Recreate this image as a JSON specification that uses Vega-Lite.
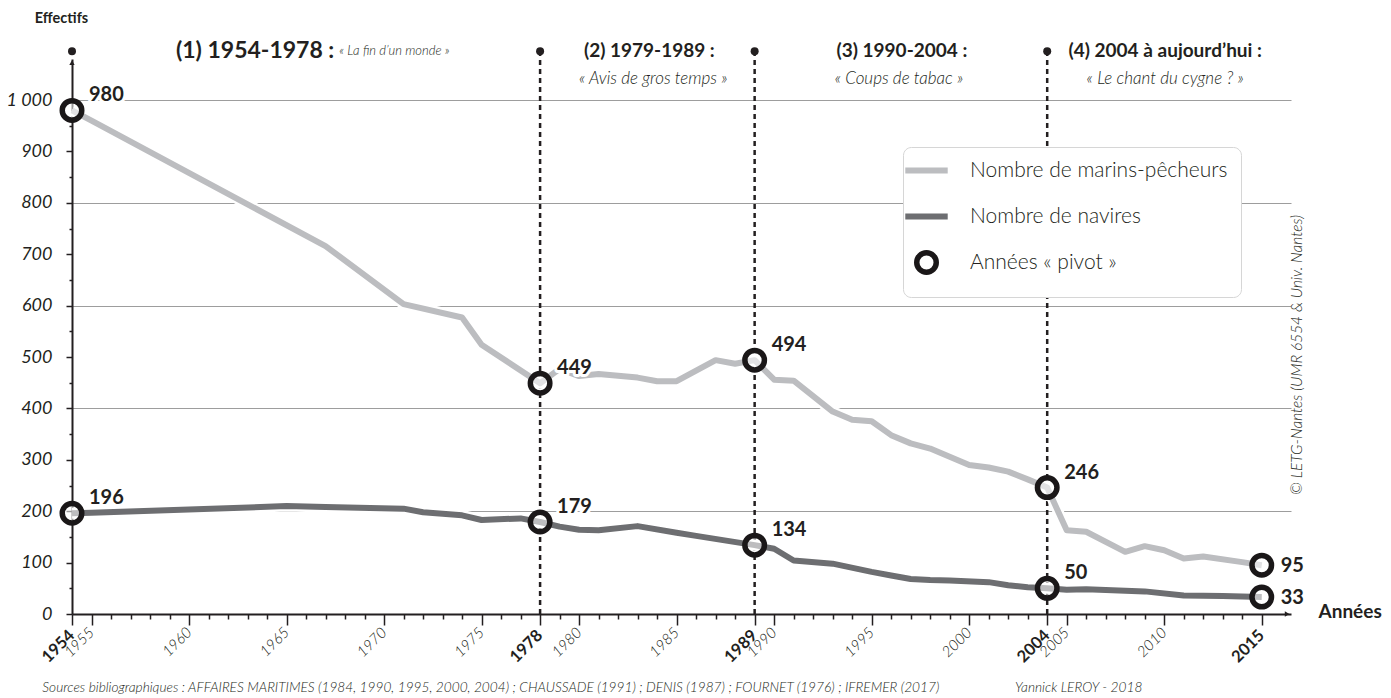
{
  "$schema": "https://vega.github.io/schema/vega-lite/v6.json",
  "width": 1219,
  "height": 555,
  "autosize": {"type": "none"},
  "padding": {"left": 72, "top": 59, "right": 100, "bottom": 84},
  "background": "white",
  "config": {"view": {"stroke": null}, "font": "Lato", "text": {"font": "Lato", "color": "#231f20"}},
  "datasets": {
    "series": [
      {"annee": 1954, "valeur": 980, "serie": "Nombre de marins-pêcheurs"},
      {"annee": 1955, "valeur": 960, "serie": "Nombre de marins-pêcheurs"},
      {"annee": 1967, "valeur": 716, "serie": "Nombre de marins-pêcheurs"},
      {"annee": 1971, "valeur": 603, "serie": "Nombre de marins-pêcheurs"},
      {"annee": 1974, "valeur": 577, "serie": "Nombre de marins-pêcheurs"},
      {"annee": 1975, "valeur": 524, "serie": "Nombre de marins-pêcheurs"},
      {"annee": 1978, "valeur": 449, "serie": "Nombre de marins-pêcheurs"},
      {"annee": 1979, "valeur": 477, "serie": "Nombre de marins-pêcheurs"},
      {"annee": 1980, "valeur": 463, "serie": "Nombre de marins-pêcheurs"},
      {"annee": 1981, "valeur": 467, "serie": "Nombre de marins-pêcheurs"},
      {"annee": 1983, "valeur": 460, "serie": "Nombre de marins-pêcheurs"},
      {"annee": 1984, "valeur": 453, "serie": "Nombre de marins-pêcheurs"},
      {"annee": 1985, "valeur": 453, "serie": "Nombre de marins-pêcheurs"},
      {"annee": 1987, "valeur": 494, "serie": "Nombre de marins-pêcheurs"},
      {"annee": 1988, "valeur": 487, "serie": "Nombre de marins-pêcheurs"},
      {"annee": 1989, "valeur": 494, "serie": "Nombre de marins-pêcheurs"},
      {"annee": 1990, "valeur": 456, "serie": "Nombre de marins-pêcheurs"},
      {"annee": 1991, "valeur": 454, "serie": "Nombre de marins-pêcheurs"},
      {"annee": 1993, "valeur": 394, "serie": "Nombre de marins-pêcheurs"},
      {"annee": 1994, "valeur": 378, "serie": "Nombre de marins-pêcheurs"},
      {"annee": 1995, "valeur": 375, "serie": "Nombre de marins-pêcheurs"},
      {"annee": 1996, "valeur": 348, "serie": "Nombre de marins-pêcheurs"},
      {"annee": 1997, "valeur": 332, "serie": "Nombre de marins-pêcheurs"},
      {"annee": 1998, "valeur": 322, "serie": "Nombre de marins-pêcheurs"},
      {"annee": 1999, "valeur": 306, "serie": "Nombre de marins-pêcheurs"},
      {"annee": 2000, "valeur": 290, "serie": "Nombre de marins-pêcheurs"},
      {"annee": 2001, "valeur": 285, "serie": "Nombre de marins-pêcheurs"},
      {"annee": 2002, "valeur": 277, "serie": "Nombre de marins-pêcheurs"},
      {"annee": 2003, "valeur": 262, "serie": "Nombre de marins-pêcheurs"},
      {"annee": 2004, "valeur": 246, "serie": "Nombre de marins-pêcheurs"},
      {"annee": 2005, "valeur": 163, "serie": "Nombre de marins-pêcheurs"},
      {"annee": 2006, "valeur": 160, "serie": "Nombre de marins-pêcheurs"},
      {"annee": 2008, "valeur": 121, "serie": "Nombre de marins-pêcheurs"},
      {"annee": 2009, "valeur": 132, "serie": "Nombre de marins-pêcheurs"},
      {"annee": 2010, "valeur": 124, "serie": "Nombre de marins-pêcheurs"},
      {"annee": 2011, "valeur": 108, "serie": "Nombre de marins-pêcheurs"},
      {"annee": 2012, "valeur": 112, "serie": "Nombre de marins-pêcheurs"},
      {"annee": 2014, "valeur": 101, "serie": "Nombre de marins-pêcheurs"},
      {"annee": 2015, "valeur": 95, "serie": "Nombre de marins-pêcheurs"},
      {"annee": 1954, "valeur": 196, "serie": "Nombre de navires"},
      {"annee": 1955, "valeur": 197, "serie": "Nombre de navires"},
      {"annee": 1965, "valeur": 210, "serie": "Nombre de navires"},
      {"annee": 1967, "valeur": 208, "serie": "Nombre de navires"},
      {"annee": 1971, "valeur": 205, "serie": "Nombre de navires"},
      {"annee": 1972, "valeur": 198, "serie": "Nombre de navires"},
      {"annee": 1974, "valeur": 192, "serie": "Nombre de navires"},
      {"annee": 1975, "valeur": 183, "serie": "Nombre de navires"},
      {"annee": 1977, "valeur": 186, "serie": "Nombre de navires"},
      {"annee": 1978, "valeur": 179, "serie": "Nombre de navires"},
      {"annee": 1979, "valeur": 170, "serie": "Nombre de navires"},
      {"annee": 1980, "valeur": 164, "serie": "Nombre de navires"},
      {"annee": 1981, "valeur": 163, "serie": "Nombre de navires"},
      {"annee": 1983, "valeur": 171, "serie": "Nombre de navires"},
      {"annee": 1985, "valeur": 158, "serie": "Nombre de navires"},
      {"annee": 1986, "valeur": 152, "serie": "Nombre de navires"},
      {"annee": 1989, "valeur": 134, "serie": "Nombre de navires"},
      {"annee": 1990, "valeur": 127, "serie": "Nombre de navires"},
      {"annee": 1991, "valeur": 104, "serie": "Nombre de navires"},
      {"annee": 1993, "valeur": 98, "serie": "Nombre de navires"},
      {"annee": 1995, "valeur": 82, "serie": "Nombre de navires"},
      {"annee": 1996, "valeur": 75, "serie": "Nombre de navires"},
      {"annee": 1997, "valeur": 68, "serie": "Nombre de navires"},
      {"annee": 1998, "valeur": 66, "serie": "Nombre de navires"},
      {"annee": 1999, "valeur": 65, "serie": "Nombre de navires"},
      {"annee": 2001, "valeur": 62, "serie": "Nombre de navires"},
      {"annee": 2002, "valeur": 56, "serie": "Nombre de navires"},
      {"annee": 2003, "valeur": 52, "serie": "Nombre de navires"},
      {"annee": 2004, "valeur": 50, "serie": "Nombre de navires"},
      {"annee": 2005, "valeur": 47, "serie": "Nombre de navires"},
      {"annee": 2006, "valeur": 48, "serie": "Nombre de navires"},
      {"annee": 2009, "valeur": 44, "serie": "Nombre de navires"},
      {"annee": 2011, "valeur": 36, "serie": "Nombre de navires"},
      {"annee": 2013, "valeur": 35, "serie": "Nombre de navires"},
      {"annee": 2015, "valeur": 33, "serie": "Nombre de navires"}
    ],
    "pivots": [
      {"annee": 1954, "valeur": 980, "etiquette": "980", "serie": "Années « pivot »"},
      {"annee": 1954, "valeur": 196, "etiquette": "196", "serie": "Années « pivot »"},
      {"annee": 1978, "valeur": 449, "etiquette": "449", "serie": "Années « pivot »"},
      {"annee": 1978, "valeur": 179, "etiquette": "179", "serie": "Années « pivot »"},
      {"annee": 1989, "valeur": 494, "etiquette": "494", "serie": "Années « pivot »"},
      {"annee": 1989, "valeur": 134, "etiquette": "134", "serie": "Années « pivot »"},
      {"annee": 2004, "valeur": 246, "etiquette": "246", "serie": "Années « pivot »"},
      {"annee": 2004, "valeur": 50, "etiquette": "50", "serie": "Années « pivot »"},
      {"annee": 2015, "valeur": 95, "etiquette": "95", "serie": "Années « pivot »"},
      {"annee": 2015, "valeur": 33, "etiquette": "33", "serie": "Années « pivot »"}
    ]
  },
  "encoding": {
    "x": {
      "field": "annee",
      "type": "quantitative",
      "scale": {"domain": [1954, 2016.5], "nice": false, "zero": false},
      "axis": {
        "title": "Années",
        "titleX": 1246,
        "titleY": -3,
        "titleAlign": "left",
        "titleBaseline": "middle",
        "titleAngle": 0,
        "titleFont": "Lato",
        "titleFontSize": 19,
        "titleFontWeight": "bold",
        "titleColor": "#231f20",
        "values": [1954,1955,1956,1957,1958,1959,1960,1961,1962,1963,1964,1965,1966,1967,1968,1969,1970,1971,1972,1973,1974,1975,1976,1977,1978,1979,1980,1981,1982,1983,1984,1985,1986,1987,1988,1989,1990,1991,1992,1993,1994,1995,1996,1997,1998,1999,2000,2001,2002,2003,2004,2005,2006,2007,2008,2009,2010,2011,2012,2013,2014,2015],
        "labels": false,
        "tickSize": {"condition": {"test": "datum.value % 5 !== 0 && indexof([1954,1978,1989,2004,2015], datum.value) < 0", "value": 5}, "value": 11},
        "tickWidth": 1.5,
        "tickColor": "#231f20",
        "domainColor": "#231f20",
        "domainWidth": 2,
        "grid": false
      }
    },
    "y": {
      "field": "valeur",
      "type": "quantitative",
      "scale": {"domain": [0, 1080], "nice": false, "zero": true},
      "axis": {
        "title": "Effectifs",
        "titleAngle": 0,
        "titleX": -11,
        "titleY": -41,
        "titleAlign": "center",
        "titleBaseline": "middle",
        "titleFont": "Lato",
        "titleFontSize": 14.5,
        "titleFontWeight": "bold",
        "titleColor": "#231f20",
        "values": [0,50,100,150,200,250,300,350,400,450,500,550,600,650,700,750,800,850,900,950,1000],
        "labelExpr": "datum.value % 100 === 0 ? replace(format(datum.value, ','), ',', ' ') : ''",
        "labelFont": "Lato",
        "labelFontStyle": "italic",
        "labelFontWeight": "normal",
        "labelFontSize": 18,
        "labelColor": "#231f20",
        "labelPadding": 14,
        "labelOverlap": false,
        "tickSize": {"condition": {"test": "datum.value % 100 !== 0", "value": 3}, "value": 6},
        "tickColor": "#231f20",
        "tickWidth": 1.5,
        "domainColor": "#231f20",
        "domainWidth": 2,
        "grid": true,
        "gridColor": "#9d9d9d",
        "gridWidth": 1.2,
        "gridOpacity": {"condition": {"test": "datum.value % 200 === 0 && datum.value > 0", "value": 1}, "value": 0}
      }
    }
  },
  "layer": [
    {
      "data": {"values": [
        {"annee": 1978, "valeur": 0, "haut": 1095},
        {"annee": 1989, "valeur": 0, "haut": 1095},
        {"annee": 2004, "valeur": 0, "haut": 1095}
      ]},
      "mark": {"type": "rule", "strokeDash": [5, 4], "strokeWidth": 2.5, "color": "#231f20"},
      "encoding": {"y2": {"field": "haut"}}
    },
    {
      "data": {"values": [
        {"annee": 1954, "valeur": 1095},
        {"annee": 1978, "valeur": 1095},
        {"annee": 1989, "valeur": 1095},
        {"annee": 2004, "valeur": 1095}
      ]},
      "mark": {"type": "point", "filled": true, "size": 64, "color": "#231f20", "opacity": 1}
    },
    {
      "data": {"values": [{"annee": 1954, "valeur": 1073}]},
      "mark": {"type": "point", "shape": "triangle-up", "filled": true, "size": 28, "color": "#231f20", "opacity": 1}
    },
    {
      "data": {"values": [{"annee": 2016.3, "valeur": 0}]},
      "mark": {"type": "point", "shape": "triangle-right", "filled": true, "size": 28, "color": "#231f20", "opacity": 1}
    },
    {
      "data": {"values": [
        {"annee": 1955, "valeur": -31}, {"annee": 1960, "valeur": -31}, {"annee": 1965, "valeur": -31},
        {"annee": 1970, "valeur": -31}, {"annee": 1975, "valeur": -31}, {"annee": 1980, "valeur": -31},
        {"annee": 1985, "valeur": -31}, {"annee": 1990, "valeur": -31}, {"annee": 1995, "valeur": -31},
        {"annee": 2000, "valeur": -31}, {"annee": 2005, "valeur": -31}, {"annee": 2010, "valeur": -31}
      ]},
      "mark": {"type": "text", "angle": 315, "align": "right", "baseline": "middle", "fontSize": 15, "fontStyle": "italic", "fontWeight": 300, "color": "#231f20"},
      "encoding": {"text": {"field": "annee", "type": "quantitative", "format": "d"}}
    },
    {
      "data": {"values": [
        {"annee": 1954, "valeur": -37}, {"annee": 1978, "valeur": -37}, {"annee": 1989, "valeur": -37},
        {"annee": 2004, "valeur": -37}, {"annee": 2015, "valeur": -37}
      ]},
      "mark": {"type": "text", "angle": 315, "align": "right", "baseline": "middle", "fontSize": 16.5, "fontWeight": "bold", "color": "#231f20"},
      "encoding": {"text": {"field": "annee", "type": "quantitative", "format": "d"}}
    },
    {
      "data": {"name": "series"},
      "mark": {"type": "line", "strokeWidth": 11, "color": "white", "strokeJoin": "round"},
      "encoding": {"detail": {"field": "serie"}}
    },
    {
      "data": {"name": "series"},
      "mark": {"type": "line", "strokeWidth": 6, "strokeJoin": "round"},
      "encoding": {
        "color": {
          "field": "serie",
          "type": "nominal",
          "scale": {
            "domain": ["Nombre de marins-pêcheurs", "Nombre de navires", "Années « pivot »"],
            "range": ["#bcbdc0", "#6d6e71", "#1a1718"]
          },
          "legend": {
            "title": null,
            "orient": "none",
            "legendX": 831,
            "legendY": 88,
            "fillColor": "white",
            "strokeColor": "#d6d6d6",
            "cornerRadius": 8,
            "padding": 13,
            "gridAlign": "all",
            "symbolType": "stroke",
            "symbolSize": 1600,
            "symbolStrokeWidth": 6,
            "labelFont": "Lato",
            "labelFontSize": 21,
            "labelFontWeight": 300,
            "labelColor": "#231f20",
            "labelOffset": 33,
            "rowPadding": 3,
            "labelLimit": 400,
            "encode": {
              "symbols": {
                "update": {
                  "shape": {"signal": "datum.value === 'Années « pivot »' ? 'circle' : 'stroke'"},
                  "size": {"signal": "datum.value === 'Années « pivot »' ? 380 : 1800"},
                  "strokeWidth": {"signal": "datum.value === 'Années « pivot »' ? 5.5 : 6"},
                  "fill": {"value": "white"}
                }
              }
            }
          }
        },
        "detail": {"field": "serie"}
      }
    },
    {
      "data": {"name": "pivots"},
      "mark": {"type": "point", "filled": false, "fill": "white", "fillOpacity": 0.55, "size": 380, "strokeWidth": 5.5, "opacity": 1},
      "encoding": {"color": {"field": "serie", "type": "nominal"}}
    },
    {
      "data": {"name": "pivots"},
      "transform": [{"filter": "datum.annee < 2015"}],
      "mark": {"type": "text", "align": "left", "baseline": "middle", "dx": 17, "dy": -15, "fontSize": 20, "fontWeight": "bold", "stroke": "white", "strokeWidth": 6, "strokeJoin": "round", "fill": "white"},
      "encoding": {"text": {"field": "etiquette"}}
    },
    {
      "data": {"name": "pivots"},
      "transform": [{"filter": "datum.annee < 2015"}],
      "mark": {"type": "text", "align": "left", "baseline": "middle", "dx": 17, "dy": -15, "fontSize": 20, "fontWeight": "bold", "color": "#231f20"},
      "encoding": {"text": {"field": "etiquette"}}
    },
    {
      "data": {"name": "pivots"},
      "transform": [{"filter": "datum.annee === 2015"}],
      "mark": {"type": "text", "align": "left", "baseline": "middle", "dx": 19, "dy": 1, "fontSize": 20, "fontWeight": "bold", "color": "#231f20"},
      "encoding": {"text": {"field": "etiquette"}}
    },
    {
      "data": {"values": [{"annee": 1967.5, "valeur": 1095, "texte": "(1) 1954-1978 :"}]},
      "mark": {"type": "text", "align": "right", "baseline": "middle", "dx": -1, "fontSize": 23, "fontWeight": "bold", "color": "#231f20"},
      "encoding": {"text": {"field": "texte"}}
    },
    {
      "data": {"values": [{"annee": 1967.5, "valeur": 1095, "texte": "« La fin d’un monde »"}]},
      "mark": {"type": "text", "align": "left", "baseline": "middle", "dx": 4, "fontSize": 13, "fontStyle": "italic", "fontWeight": 300, "color": "#231f20"},
      "encoding": {"text": {"field": "texte"}}
    },
    {
      "data": {"values": [
        {"annee": 1983.6, "valeur": 1095, "texte": "(2) 1979-1989 :"},
        {"annee": 1996.55, "valeur": 1095, "texte": "(3) 1990-2004 :"},
        {"annee": 2010.05, "valeur": 1095, "texte": "(4) 2004 à aujourd’hui :"}
      ]},
      "mark": {"type": "text", "align": "center", "baseline": "middle", "fontSize": 19, "fontWeight": "bold", "color": "#231f20"},
      "encoding": {"text": {"field": "texte"}}
    },
    {
      "data": {"values": [
        {"annee": 1983.8, "valeur": 1042, "texte": "« Avis de gros temps »"},
        {"annee": 1996.4, "valeur": 1042, "texte": "« Coups de tabac »"},
        {"annee": 2010.05, "valeur": 1042, "texte": "« Le chant du cygne ? »"}
      ]},
      "mark": {"type": "text", "align": "center", "baseline": "middle", "fontSize": 17, "fontStyle": "italic", "fontWeight": 300, "color": "#231f20"},
      "encoding": {"text": {"field": "texte"}}
    },
    {
      "data": {"values": [
        {"annee": 1952.48, "valeur": -144, "texte": "Sources bibliographiques : AFFAIRES MARITIMES (1984, 1990, 1995, 2000, 2004) ; CHAUSSADE (1991) ; DENIS (1987) ; FOURNET (1976) ; IFREMER (2017)"},
        {"annee": 2002.35, "valeur": -144, "texte": "Yannick LEROY - 2018"}
      ]},
      "mark": {"type": "text", "align": "left", "baseline": "middle", "fontSize": 13.7, "fontStyle": "italic", "fontWeight": 300, "color": "#231f20"},
      "encoding": {"text": {"field": "texte"}}
    },
    {
      "data": {"values": [{"annee": 2016.82, "valeur": 504, "texte": "© LETG-Nantes (UMR 6554 & Univ. Nantes)"}]},
      "mark": {"type": "text", "align": "center", "baseline": "middle", "angle": 270, "fontSize": 15.4, "fontStyle": "italic", "fontWeight": 300, "color": "#231f20"},
      "encoding": {"text": {"field": "texte"}}
    }
  ]
}
